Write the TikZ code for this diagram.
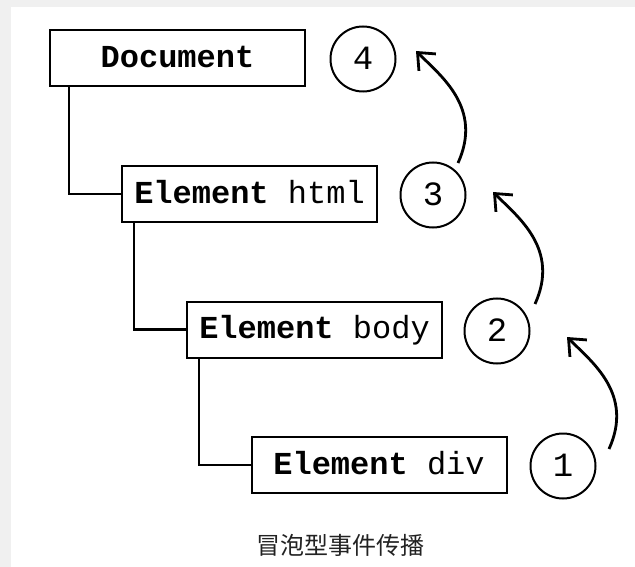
\documentclass[tikz,border=0pt]{standalone}
\usepackage{fontspec}
\setmonofont{Liberation Mono}
\newfontfamily\cjk{Noto Sans CJK SC}
\usetikzlibrary{arrows.meta}
\definecolor{bggray}{HTML}{F0F0F0}
\definecolor{captxt}{HTML}{222222}
\begin{document}
\begin{tikzpicture}[x=1pt,y=-1pt,
  box/.style={draw, line width=2pt, minimum width=255pt, minimum height=56pt, inner sep=0pt,
    text height=18.2pt, text depth=0pt, font=\ttfamily\fontsize{32}{32}\selectfont},
  num/.style={draw, circle, line width=2pt, minimum size=65pt, inner sep=0pt,
    text height=21pt, text depth=0pt, font=\ttfamily\fontsize{34}{34}\selectfont},
  tree/.style={line width=2.5pt},
  bubble/.style={line width=2.8pt, -{Straight Barb[length=14pt,width=24pt]}}]
\useasboundingbox (0,0) rectangle (635,567);
\fill[bggray] (0,0) rectangle (635,567);
\fill[white] (11,7) rectangle (635,567);

\node[box] (doc)  at (177.5,58.5) {\textbf{Document}};
\node[box] (html) at (249.5,194)  {\textbf{Element} html};
\node[box] (body) at (314.5,329.5) {\textbf{Element} body};
\node[box] (div)  at (379,465)    {\textbf{Element} div};

\draw[tree] ([xshift=20pt]doc.south west) |- (html.west);
\draw[tree] ([xshift=13pt]html.south west) |- (body.west);
\draw[tree] ([xshift=13pt]body.south west) |- (div.west);

\node[num] (c4) at (363,59)  {4};
\node[num] (c3) at (433,195) {3};
\node[num] (c2) at (497,331) {2};
\node[num] (c1) at (563,466) {1};

\coordinate (s1) at (609,449); \coordinate (e1) at (567,337);
\coordinate (s2) at (535,304); \coordinate (e2) at (493,192);
\coordinate (s3) at (458,163); \coordinate (e3) at (416,51);
\draw[bubble] (s1) .. controls +(25,-55) and +(25,25) .. (e1);
\draw[bubble] (s2) .. controls +(25,-55) and +(25,25) .. (e2);
\draw[bubble] (s3) .. controls +(25,-55) and +(25,25) .. (e3);

\node[font=\cjk\fontsize{24}{24}\selectfont, text=captxt] (cap) at (340,545) {冒泡型事件传播};
\end{tikzpicture}
\end{document}
